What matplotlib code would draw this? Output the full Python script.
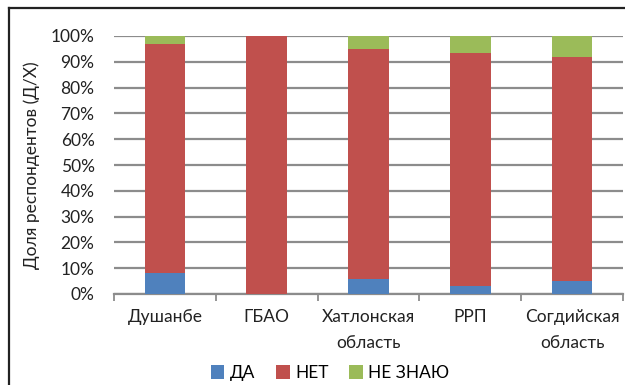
import matplotlib
matplotlib.use("Agg")
import matplotlib.pyplot as plt
import numpy as np

regions = ["Душанбе", "ГБАО", "Хатлонская\nобласть", "РРП", "Согдийская\nобласть"]
da = [8, 0, 6, 3, 5]
net = [89, 100, 89, 90.5, 87]
ne_znayu = [3, 0, 5, 6.5, 8]
yticks = [0, 10, 20, 30, 40, 50, 60, 70, 80, 90, 100]

colors = {"ДА": "#4F81BD", "НЕТ": "#C0504D", "НЕ ЗНАЮ": "#9BBB59"}

plt.rcParams['font.family'] = ['Lato', 'DejaVu Sans']

fig = plt.figure(figsize=(6.25, 3.85), dpi=100)
ax = fig.add_axes([114 / 625, 1 - 294 / 385, (623 - 114) / 625, (294 - 36) / 385])

x = np.arange(len(regions))
w = 0.4
da = np.array(da, dtype=float)
net = np.array(net, dtype=float)
ne_znayu = np.array(ne_znayu, dtype=float)
ax.bar(x, da, w, color=colors["ДА"], label="ДА", zorder=3)
ax.bar(x, net, w, bottom=da, color=colors["НЕТ"], label="НЕТ", zorder=3)
ax.bar(x, ne_znayu, w, bottom=da + net, color=colors["НЕ ЗНАЮ"], label="НЕ ЗНАЮ", zorder=3)

ax.set_xlim(-0.5, len(regions) - 0.5)
ax.set_ylim(0, 100)
ax.set_yticks(yticks)
ax.set_yticklabels([f"{v}%" for v in yticks], fontsize=12.5, color="#222222")
ax.yaxis.grid(True, color="#8c8c8c", linewidth=1.6, zorder=0)
ax.tick_params(axis='y', length=0, pad=14)

ax.set_xticks(x)
ax.set_xticklabels(regions, fontsize=12.5, color="#222222", linespacing=1.75)
ax.set_xticks(np.arange(len(regions) + 1) - 0.5, minor=True)
ax.tick_params(axis='x', which='major', length=0, pad=11)
ax.tick_params(axis='x', which='minor', length=5, width=1.3, color="#8c8c8c", direction='out')

for s in ["top", "right", "left"]:
    ax.spines[s].set_visible(False)
ax.spines["bottom"].set_color("#8c8c8c")
ax.spines["bottom"].set_linewidth(1.6)

ax.set_ylabel("Доля респондентов (Д/Х)", fontsize=12.5, color="#222222")
ax.yaxis.set_label_coords(-0.145, 0.5)

fig.legend(loc="center", bbox_to_anchor=(330 / 625, 1 - 373 / 385), ncol=3,
           frameon=False, fontsize=12.5, handlelength=0.8, handleheight=0.8,
           handletextpad=0.3, columnspacing=1.2)

# outer frame (left and top edges)
fig.add_artist(plt.Line2D([9 / 625, 9 / 625], [0, 1 - 8 / 385], transform=fig.transFigure,
                          color="#222222", linewidth=1.6))
fig.add_artist(plt.Line2D([9 / 625, 1], [1 - 8 / 385, 1 - 8 / 385], transform=fig.transFigure,
                          color="#222222", linewidth=1.6))

fig.savefig("out.png", dpi=100)
